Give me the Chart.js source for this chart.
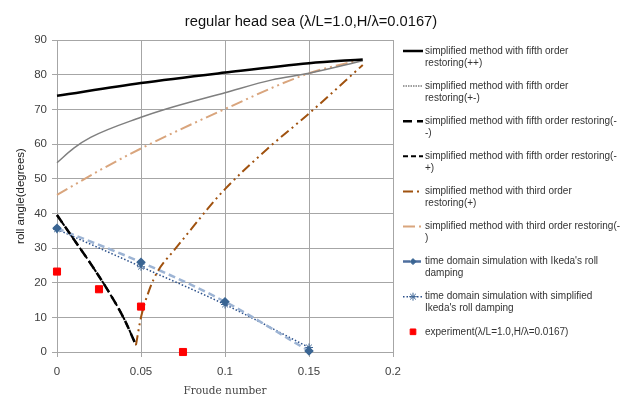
<!DOCTYPE html>
<html>
<head>
<meta charset="utf-8">
<title>regular head sea</title>
<script src="https://cdn.jsdelivr.net/npm/chart.js@4.4.1/dist/chart.umd.min.js"></script>
<style>
body { margin: 0; background: #fff; }
#rollChart { display: block; }
</style>
</head>
<body>
<canvas id="rollChart" width="624" height="398"></canvas>
<script>
// texts
const chartTitle = 'regular head sea (λ/L=1.0,H/λ=0.0167)';
const xAxisTitle = 'Froude number';
const yAxisTitle = 'roll angle(degrees)';
const xTickLabels = ['0', '0.05', '0.1', '0.15', '0.2'];
const legendLabels = [
    ['simplified method with fifth order', 'restoring(++)'],
    ['simplified method with fifth order', 'restoring(+-)'],
    ['simplified method with fifth order restoring(-', '-)'],
    ['simplified method with fifth order restoring(-', '+)'],
    ['simplified method with third order', 'restoring(+)'],
    ['simplified method with third order restoring(-', ')'],
    ["time domain simulation with Ikeda's roll", 'damping'],
    ['time domain simulation with simplified', "Ikeda's roll damping"],
    ['experiment(λ/L=1.0,H/λ=0.0167)']
];

// data
const froudeFifthPP = [0, 0.05, 0.1, 0.15, 0.182];
const rollFifthPP = [73.9, 77.6, 80.6, 83.3, 84.4];
const froudeFifthPM = [0, 0.01, 0.02, 0.05, 0.065, 0.1, 0.128, 0.15, 0.182];
const rollFifthPM = [54.6, 58.8, 61.9, 67.7, 70.1, 74.8, 78.5, 80.4, 84.0];
const froudeFifthMM = [0, 0.01, 0.02, 0.03, 0.04, 0.047];
const rollFifthMM = [39.5, 32.5, 25.5, 18, 9.5, 2];
const froudeFifthMP = [0, 0.01, 0.02, 0.03, 0.04, 0.047];
const rollFifthMP = [39.5, 32.5, 25.5, 18, 9.5, 2];
const froudeThirdP = [0.047, 0.05, 0.055, 0.06, 0.07, 0.08, 0.09, 0.1, 0.125, 0.15, 0.182];
const rollThirdP = [2, 10, 18, 23.3, 29.5, 35.5, 41.5, 47, 58.5, 68.8, 82.8];
const froudeThirdM = [0, 0.025, 0.05, 0.1, 0.15, 0.182];
const rollThirdM = [45.3, 52.3, 58.7, 70.1, 80.4, 84.4];
const froudeSim = [0, 0.05, 0.1, 0.15];
const rollIkeda = [35.7, 25.9, 14.5, 0.3];
const rollSimpleIkeda = [35.4, 24.6, 13.7, 1.3];
const froudeExp = [0, 0.025, 0.05, 0.075];
const rollExp = [23.2, 18.1, 13.1, 0];

const fontSans = '"Liberation Sans", Arial, sans-serif';

// pairs x/y arrays into points
function MakePoints(xs, ys){
    var pts = [];
    for (var i = 0; i < xs.length; i++) {
        pts.push({ x: xs[i], y: ys[i] });
    }
    return pts;
}

function MakeLine(idx, xs, ys, color, width, dash){
    return {
        label: legendLabels[idx].join(' '),
        data: MakePoints(xs, ys),
        showLine: true,
        borderColor: color,
        backgroundColor: color,
        borderWidth: width,
        borderDash: dash,
        pointRadius: 0,
        cubicInterpolationMode: 'monotone',
        clip: false
    };
}

var datasets = [
    MakeLine(0, froudeFifthPP, rollFifthPP, '#000000', 2.5, []),
    MakeLine(1, froudeFifthPM, rollFifthPM, '#7f7f7f', 1.5, []),
    MakeLine(2, froudeFifthMM, rollFifthMM, '#000000', 2.5, [9, 5]),
    MakeLine(3, froudeFifthMP, rollFifthMP, '#000000', 2, [5, 3]),
    MakeLine(4, froudeThirdP, rollThirdP, '#a0520f', 2, [10, 4, 2, 4, 2, 4]),
    MakeLine(5, froudeThirdM, rollThirdM, '#d9a57d', 2, [12, 4, 2, 4, 2, 4]),
    MakeLine(6, froudeSim, rollIkeda, '#9db4d4', 2.5, [7, 4]),
    MakeLine(7, froudeSim, rollSimpleIkeda, '#2a4f8a', 1.5, [1.5, 2]),
    {
        label: legendLabels[8].join(' '),
        data: MakePoints(froudeExp, rollExp),
        showLine: false,
        pointStyle: 'rect',
        pointRadius: 5,
        pointBorderWidth: 1,
        borderColor: '#ff0000',
        backgroundColor: '#ff0000',
        order: -1,
        clip: false
    }
];
// legend looks of the samples
datasets[1].legendDash = [1.5, 1];
datasets[3].order = 1;
datasets[6].legendColor = '#4f6f9f';
datasets[6].pointStyle = 'rectRot';
datasets[6].pointRadius = 3;
datasets[6].pointBackgroundColor = '#3a6593';
datasets[6].pointBorderColor = '#3a6593';
datasets[7].pointStyle = 'star';
datasets[7].pointRadius = 4;
datasets[7].pointBorderColor = '#3f6796';
datasets[7].pointBorderWidth = 1;

// title and side legend drawn by hand
const sideLegend = {
    id: 'sideLegend',
    afterDraw(chart) {
        var ctx = chart.ctx;
        ctx.save();
        ctx.fillStyle = '#111';
        ctx.font = '14.7px ' + fontSans;
        ctx.textAlign = 'center';
        ctx.textBaseline = 'middle';
        ctx.fillText(chartTitle, 311, 22);

        ctx.font = '10px ' + fontSans;
        ctx.textAlign = 'left';
        chart.data.datasets.forEach(function(ds, i){
            var y = 51 + i * 35.1;
            if (ds.showLine) {
                ctx.beginPath();
                ctx.setLineDash(ds.legendDash || ds.borderDash || []);
                ctx.strokeStyle = ds.legendColor || ds.borderColor;
                ctx.lineWidth = ds.borderWidth;
                ctx.moveTo(403, y);
                ctx.lineTo(423, y);
                ctx.stroke();
            }
            ctx.setLineDash([]);
            if (ds.pointRadius > 0) {
                ctx.fillStyle = ds.pointBackgroundColor || ds.backgroundColor;
                ctx.strokeStyle = ds.pointBorderColor || ds.borderColor;
                ctx.lineWidth = ds.pointBorderWidth || 1;
                Chart.helpers.drawPoint(ctx, {
                    pointStyle: ds.pointStyle,
                    radius: ds.showLine ? ds.pointRadius : 4,
                    borderWidth: ds.pointBorderWidth || 1,
                    rotation: 0
                }, 413, y);
            }
            ctx.fillStyle = '#333';
            legendLabels[i].forEach(function(line, k){
                ctx.fillText(line, 425, y + k * 12);
            });
        });
        ctx.restore();
    }
};

new Chart(document.getElementById('rollChart'), {
    type: 'scatter',
    data: { datasets: datasets },
    plugins: [sideLegend],
    options: {
        responsive: false,
        animation: false,
        layout: { padding: { top: 40, right: 231, left: 0, bottom: 0 } },
        plugins: {
            legend: { display: false },
            title: { display: false },
            tooltip: { enabled: false }
        },
        scales: {
            x: {
                type: 'linear',
                min: 0,
                max: 0.2,
                afterFit: function(scale){ scale.height = 46; },
                ticks: {
                    stepSize: 0.05,
                    padding: 8,
                    color: '#404040',
                    font: { family: fontSans, size: 11.5 },
                    callback: function(value, index){ return xTickLabels[index]; }
                },
                grid: { color: '#a6a6a6', tickLength: 5 },
                border: { color: '#a6a6a6' },
                title: {
                    display: true,
                    text: xAxisTitle,
                    color: '#444',
                    padding: { top: 0, bottom: 0 },
                    font: { family: '"DejaVu Serif", serif', size: 10.5 }
                }
            },
            y: {
                min: 0,
                max: 90,
                afterFit: function(scale){ scale.width = 57; },
                ticks: {
                    stepSize: 10,
                    padding: 5,
                    color: '#404040',
                    font: { family: fontSans, size: 11.5 }
                },
                grid: { color: '#a6a6a6', tickLength: 5 },
                border: { color: '#a6a6a6' },
                title: {
                    display: true,
                    text: yAxisTitle,
                    color: '#222',
                    padding: { top: 14, bottom: 0 },
                    font: { family: fontSans, size: 11.5 }
                }
            }
        }
    }
});
</script>
</body>
</html>
